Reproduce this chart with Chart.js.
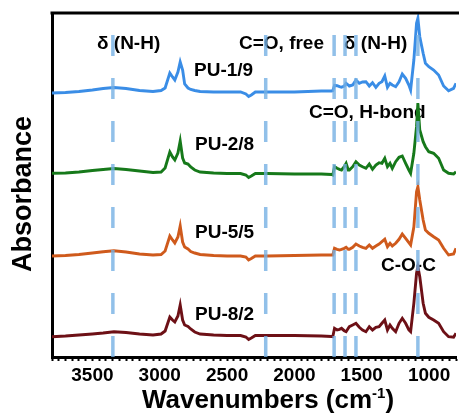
<!DOCTYPE html>
<html>
<head>
<meta charset="utf-8">
<script src="https://cdn.jsdelivr.net/npm/chart.js@4.4.1/dist/chart.umd.min.js"></script>
<style>
  html, body { margin: 0; padding: 0; background: #fff; }
  canvas { display: block; }
</style>
</head>
<body>
<canvas id="ftir" width="459" height="415"></canvas>
<script>
// wavenumber grid (cm-1), shared by all spectra
const wavenumbers = [3800, 3700, 3600, 3500, 3420, 3340, 3250, 3150, 3050,
  2990, 2960, 2925, 2905, 2888, 2865, 2848, 2830, 2815, 2790, 2770, 2740, 2700,
  2600, 2500, 2400, 2360, 2340, 2320, 2290, 2200, 2000, 1800,
  1725, 1715, 1702, 1683, 1665, 1650, 1630, 1616, 1600, 1592,
  1567, 1543, 1518, 1494, 1469, 1444, 1420, 1395, 1371, 1350,
  1329, 1309, 1290, 1273, 1248, 1223, 1199, 1174, 1150, 1137,
  1113, 1093, 1083, 1069, 1044, 1027, 1002, 966, 929, 892,
  855, 818, 800];

// absorbance (a.u., already offset for stacking)
const pu19 = [263, 263.5, 264.5, 266, 267.5, 268.5, 267.5, 265.5, 264.5,
  265.5, 268, 283, 279, 276, 284, 294, 286, 272, 268, 266.5, 265.5, 264.5,
  264, 264, 264, 262, 259.5, 261, 264, 264, 264, 265,
  265, 265.3, 270.7, 270.3, 269.3, 268.7, 270, 272.7, 271, 270,
  271, 276, 272.7, 274, 274.3, 270, 273.3, 268.7, 272.7, 274.3,
  280, 268.7, 272.7, 271, 269.3, 274.3, 282, 277.7, 271, 266,
  296, 332.7, 337.7, 319.3, 302.7, 292.7, 289.3, 286, 281, 270,
  265.3, 267.7, 272.7];

const pu28 = [182.7, 183, 184, 185.5, 186.5, 187.5, 186.5, 185, 183.5,
  184, 188, 204, 199, 196, 203, 215, 198, 193, 192, 189, 186, 184,
  183, 182.5, 182.5, 181, 178.5, 180, 182.5, 182.5, 182, 182,
  181.5, 181, 189.3, 187.7, 186.7, 186, 189.3, 192.7, 186, 186,
  189.3, 194.3, 191, 189.3, 187.7, 192, 186.7, 191, 193.3, 192.7,
  197.7, 189.3, 192.7, 187.7, 194.3, 198.7, 200, 192.7, 186, 182.7,
  202.7, 229.3, 253, 226, 214.3, 209.3, 204.3, 202.7, 197.7, 186,
  182.7, 182, 184.3];

const pu55 = [100, 100.5, 101.5, 103, 104.3, 105.3, 104, 102, 101,
  101.5, 105, 120, 116, 113, 119, 130, 114, 109, 107, 104.5, 103, 101.5,
  100.5, 100, 100, 99, 96, 97.5, 100, 100, 100.5, 101,
  101, 101, 107.7, 106.7, 106, 106.7, 107.7, 108.7, 106.7, 106.7,
  108.7, 112, 110, 108.7, 107.7, 111, 107.7, 110, 112, 114.3,
  116.7, 109.3, 112.7, 110, 112.7, 116.7, 122, 117.7, 113.3, 111,
  129, 164.3, 169.3, 156, 136, 126, 122.7, 119.3, 116, 107.7,
  101, 102, 107.7];

const pu82 = [19.3, 20, 21, 22, 23, 24.3, 23.5, 22, 21,
  22, 25, 39, 36, 34, 40, 51, 36, 31, 29.5, 27, 24, 22,
  21, 20.5, 20.5, 19, 16.5, 18, 20.5, 20.5, 20.5, 20,
  19.5, 19.3, 27.7, 26, 26.7, 27.7, 25.3, 24.3, 27.7, 29.3,
  31, 32.7, 28.7, 26, 24.3, 29.3, 26, 28.7, 29.3, 32.7,
  36, 26, 31, 27.7, 24.3, 32.7, 37.7, 32.7, 26, 24.3,
  52.7, 82.7, 89.3, 79.3, 52.7, 42.7, 38.7, 36, 32.7, 24.3,
  19.3, 18.7, 22.7];

const seriesNames = ["PU-1/9", "PU-2/8", "PU-5/5", "PU-8/2"];
const seriesColors = ["#3a8de6", "#16791a", "#cf5a1c", "#6d1016"];

// band positions marked with dashed lines (cm-1)
const bandLines = [3348, 2213, 1705, 1624, 1543, 1083];

const FONT = "'Liberation Sans', Arial, sans-serif";

// text labels: [text, x px, y px (middle)]
const labels = [
  ["δ (N-H)", 97, 44],
  ["C=O, free", 239, 44],
  ["δ (N-H)", 344, 44],
  ["PU-1/9", 194, 71],
  ["C=O, H-bond", 309, 113],
  ["PU-2/8", 195, 145],
  ["PU-5/5", 195, 233],
  ["C-O-C", 381, 266],
  ["PU-8/2", 195, 315],
];

const Y_MIN = -1;
const Y_MAX = 343;

const toPoints = (ys) => wavenumbers.map((x, i) => ({ x: x, y: ys[i] }));

const datasets = [];

// dashed band markers (drawn on top)
bandLines.forEach((wn) => {
  datasets.push({
    data: [{ x: wn, y: Y_MIN }, { x: wn, y: Y_MAX }],
    borderColor: "rgba(118,176,228,0.8)",
    borderWidth: 3.5,
    borderDash: [21, 22],
    pointRadius: 0,
    order: 0,
  });
});

[pu19, pu28, pu55, pu82].forEach((ys, i) => {
  datasets.push({
    label: seriesNames[i],
    data: toPoints(ys),
    borderColor: seriesColors[i],
    borderWidth: 2.9,
    pointRadius: 0,
    tension: 0,
    order: 1,
  });
});

const textPlugin = {
  id: "texts",
  beforeDatasetsDraw(chart) {
    const ctx = chart.ctx;
    ctx.save();
    ctx.fillStyle = "#000";
    ctx.font = "bold 19px " + FONT;
    ctx.textBaseline = "middle";
    ctx.textAlign = "left";
    labels.forEach(([t, x, y]) => ctx.fillText(t, x, y));
    ctx.restore();
  },
  afterDraw(chart) {
    const ctx = chart.ctx;
    const area = chart.chartArea;
    ctx.save();
    // top frame line
    ctx.strokeStyle = "#000";
    ctx.lineWidth = 3;
    ctx.beginPath();
    ctx.moveTo(area.left - 1.5, area.top);
    ctx.lineTo(chart.width, area.top);
    ctx.stroke();

    // x title with superscript
    ctx.fillStyle = "#000";
    ctx.textBaseline = "alphabetic";
    const big = "bold 26px " + FONT;
    const small = "bold 15px " + FONT;
    ctx.font = big;
    const a = "Wavenumbers (cm";
    const c = ")";
    const wa = ctx.measureText(a).width;
    const wc = ctx.measureText(c).width;
    ctx.font = small;
    const b = "-1";
    const wb = ctx.measureText(b).width;
    const total = wa + wb + wc;
    let x0 = 268 - total / 2;
    const base = 408;
    ctx.font = big;
    ctx.fillText(a, x0, base);
    ctx.font = small;
    ctx.fillText(b, x0 + wa, base - 10);
    ctx.font = big;
    ctx.fillText(c, x0 + wa + wb, base);

    // y title
    ctx.translate(24, 194);
    ctx.rotate(-Math.PI / 2);
    ctx.textAlign = "center";
    ctx.textBaseline = "middle";
    ctx.font = "bold 27px " + FONT;
    ctx.fillText("Absorbance", 0, 0);
    ctx.restore();
  },
};

new Chart(document.getElementById("ftir"), {
  type: "line",
  data: { datasets: datasets },
  options: {
    responsive: false,
    animation: false,
    devicePixelRatio: 1,
    layout: { padding: { top: 13, right: 0, left: 0, bottom: 0 } },
    plugins: {
      legend: { display: false },
      tooltip: { enabled: false },
    },
    scales: {
      x: {
        type: "linear",
        reverse: true,
        min: 800,
        max: 3800,
        afterFit: (scale) => { scale.height = 58; },
        border: { display: true, color: "#000", width: 3 },
        grid: {
          display: true,
          drawOnChartArea: false,
          drawTicks: true,
          tickLength: 4,
          tickWidth: 2,
          tickColor: "#000",
        },
        ticks: {
          stepSize: 50,
          autoSkip: false,
          maxRotation: 0,
          padding: 3,
          color: "#000",
          font: { family: FONT, size: 19, weight: "bold" },
          callback: (v) => (v % 500 === 0 ? String(v) : ""),
        },
      },
      y: {
        min: Y_MIN,
        max: Y_MAX,
        afterFit: (scale) => { scale.width = 52; },
        border: { display: true, color: "#000", width: 3 },
        grid: { display: false },
        ticks: { display: false },
      },
    },
  },
  plugins: [textPlugin],
});
</script>
</body>
</html>
